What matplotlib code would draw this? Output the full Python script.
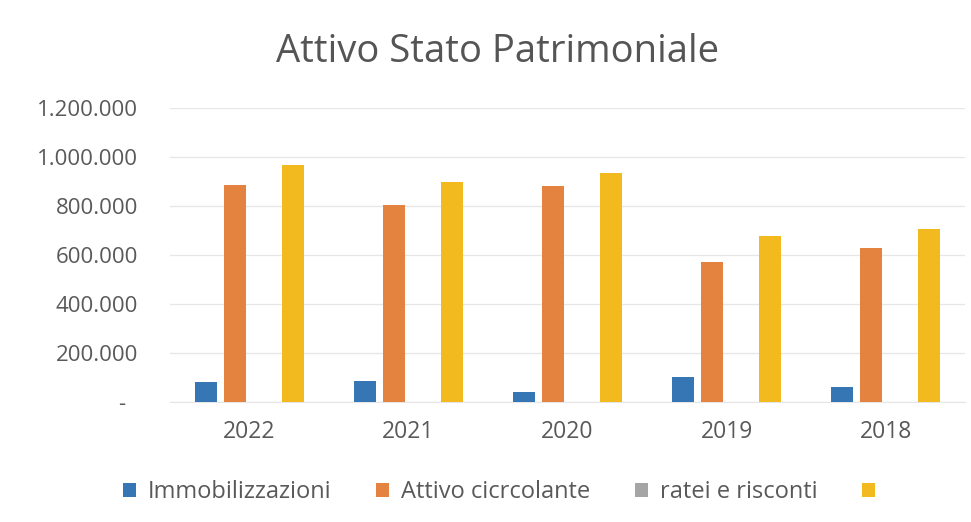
import matplotlib
matplotlib.use("Agg")
import matplotlib.pyplot as plt
import numpy as np

categories = ["2022", "2021", "2020", "2019", "2018"]
immobilizzazioni = [82000, 86000, 41000, 102000, 61000]
attivo_circolante = [886000, 804000, 882000, 571000, 629000]
ratei_risconti = [500, 500, 500, 500, 500]
totale = [967000, 898000, 935000, 678000, 706000]
series_names = ["Immobilizzazioni", "Attivo cicrcolante", "ratei e risconti", " "]
yticks = [0, 200000, 400000, 600000, 800000, 1000000, 1200000]
ytick_labels = ["-  ", "200.000", "400.000", "600.000", "800.000", "1.000.000", "1.200.000"]
colors = ["#3776B5", "#E4823F", "#A5A5A5", "#F2BA1E"]

plt.rcParams['font.family'] = ['Open Sans', 'DejaVu Sans']

fig = plt.figure(figsize=(9.71, 5.22), dpi=100)
ax = fig.add_axes([0.175, 0.2299, 0.819, 0.5632])

x = np.arange(len(categories))
step = 0.182
width = 0.138
data = [immobilizzazioni, attivo_circolante, ratei_risconti, totale]
for i, (vals, name, c) in enumerate(zip(data, series_names, colors)):
    ax.bar(x + (i - 1.5) * step, vals, width=width, color=c, label=name, zorder=3,
           linewidth=0)

ax.set_xlim(-0.5, len(categories) - 0.5)
ax.set_ylim(0, 1200000)
ax.set_yticks(yticks)
ax.set_yticklabels(ytick_labels)
ax.set_xticks(x)
ax.set_xticklabels(categories)
ax.grid(axis='y', color='#e6e6e6', linewidth=0.9, zorder=0)
ax.tick_params(axis='both', length=0, colors='#595959')
ax.tick_params(axis='x', pad=13, labelsize=16.5)
ax.tick_params(axis='y', pad=23, labelsize=16)
for s in ax.spines.values():
    s.set_visible(False)
ax.spines['bottom'].set_visible(True)
ax.spines['bottom'].set_color('#e6e6e6')

fig.text(0.512, 0.9, "Attivo Stato Patrimoniale", ha='center', va='center',
         fontsize=27.5, color='#555555')

leg = fig.legend(loc='center', bbox_to_anchor=(0.523, 0.0575), ncol=4, frameon=False,
                 fontsize=17, handlelength=0.55, handleheight=0.55, handletextpad=0.5,
                 columnspacing=1.9, labelcolor='#595959')

fig.savefig("out.png", dpi=100, facecolor='white')
